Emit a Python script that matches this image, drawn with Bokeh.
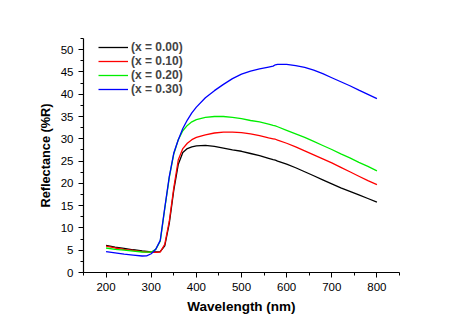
from bokeh.plotting import figure
from bokeh.models import Range1d, SingleIntervalTicker, Legend, LegendItem, Title
from bokeh.embed import file_html
from bokeh.resources import INLINE

wavelength = [200, 220, 240, 260, 280, 290, 300, 310, 320, 330, 340, 350, 360, 370, 380, 390, 400,
              420, 440, 460, 480, 500, 520, 540, 560, 570, 575, 580, 600, 620, 640, 660, 680,
              700, 720, 740, 760, 780, 800]

r_000 = [6.1, 5.7, 5.4, 5.1, 4.85, 4.75, 4.65, 4.6, 4.7, 6.0, 11.0, 18.5, 24.3, 26.9, 27.8, 28.2, 28.4,
         28.5, 28.3, 27.9, 27.5, 27.2, 26.7, 26.2, 25.6, 25.3, 25.2, 25.0, 24.3, 23.5, 22.6, 21.7, 20.8,
         19.9, 19.0, 18.2, 17.4, 16.6, 15.8]
r_010 = [5.9, 5.5, 5.2, 4.95, 4.7, 4.6, 4.55, 4.5, 4.6, 6.3, 11.5, 19.0, 25.3, 27.8, 29.0, 29.8, 30.3,
         30.9, 31.3, 31.5, 31.5, 31.4, 31.1, 30.7, 30.2, 30.0, 29.9, 29.7, 29.0, 28.2, 27.3, 26.4, 25.5,
         24.6, 23.6, 22.6, 21.6, 20.6, 19.7]
r_020 = [5.5, 5.2, 5.0, 4.8, 4.6, 4.55, 4.6, 5.2, 7.0, 14.3, 21.3, 26.6, 29.8, 31.8, 33.0, 33.8, 34.3,
         34.8, 35.0, 35.0, 34.8, 34.5, 34.1, 33.8, 33.3, 33.0, 32.9, 32.7, 31.9, 31.1, 30.3, 29.4, 28.5,
         27.6, 26.6, 25.7, 24.7, 23.8, 22.8]
r_030 = [4.7, 4.4, 4.1, 3.9, 3.7, 3.75, 4.2, 5.2, 7.2, 14.5, 21.5, 26.8, 29.8, 32.3, 34.2, 35.8, 37.1,
         39.2, 40.8, 42.2, 43.5, 44.5, 45.2, 45.7, 46.1, 46.3, 46.6, 46.7, 46.7, 46.4, 46.0, 45.4, 44.6,
         43.7, 42.8, 41.9, 40.9, 39.95, 39.0]

labels = ["(x = 0.00)", "(x = 0.10)", "(x = 0.20)", "(x = 0.30)"]
colors = ["#000000", "#ff0000", "#00ee00", "#0000ff"]
series = [r_000, r_010, r_020, r_030]

p = figure(width=455, height=319, output_backend="svg", toolbar_location=None,
           x_range=Range1d(150, 850), y_range=Range1d(0, 52.5),
           min_border_left=83, min_border_right=56, min_border_top=38, min_border_bottom=47)
p.outline_line_color = None
p.xgrid.visible = False
p.ygrid.visible = False
p.background_fill_color = "white"
p.border_fill_color = "white"

items = []
for lab, col, ys in zip(labels, colors, series):
    r = p.line(wavelength, ys, line_color=col, line_width=1.3)
    items.append(LegendItem(label=lab, renderers=[r]))

legend = Legend(items=items, location=(15, 176), padding=0, margin=0, spacing=0,
                border_line_color=None, background_fill_alpha=0,
                glyph_width=30, glyph_height=14, label_height=14, label_standoff=3,
                label_text_font="Liberation Sans", label_text_font_style="bold",
                label_text_font_size="12px")
p.add_layout(legend)

for ax in (p.xaxis[0], p.yaxis[0]):
    ax.axis_line_color = "black"
    ax.axis_line_width = 1.2
    ax.major_tick_line_color = "black"
    ax.minor_tick_line_color = "black"
    ax.major_tick_in = 0
    ax.major_tick_out = 5
    ax.minor_tick_in = 0
    ax.minor_tick_out = 3
    ax.major_label_text_font = "Liberation Sans"
    ax.major_label_text_font_size = "11.5px"
    ax.major_label_text_color = "black"
    ax.axis_label_text_font = "Liberation Sans"
    ax.axis_label_text_font_style = "bold"
    ax.axis_label_text_font_size = "13.5px"
    ax.axis_label_text_color = "black"

p.xaxis.ticker = SingleIntervalTicker(interval=100, num_minor_ticks=2)
p.yaxis.ticker = SingleIntervalTicker(interval=5, num_minor_ticks=2)
p.xaxis.axis_label = "Wavelength (nm)"
p.xaxis.major_label_standoff = 5
p.yaxis.major_label_standoff = 5
p.xaxis.axis_label_standoff = 5

ylabel = Title(text="Reflectance (%R)", align="center", offset=12.5, standoff=9,
               text_font="Liberation Sans", text_font_style="bold",
               text_font_size="12.75px", text_color="black")
p.add_layout(ylabel, "left")

open("out.html", "w").write(file_html(p, INLINE))
